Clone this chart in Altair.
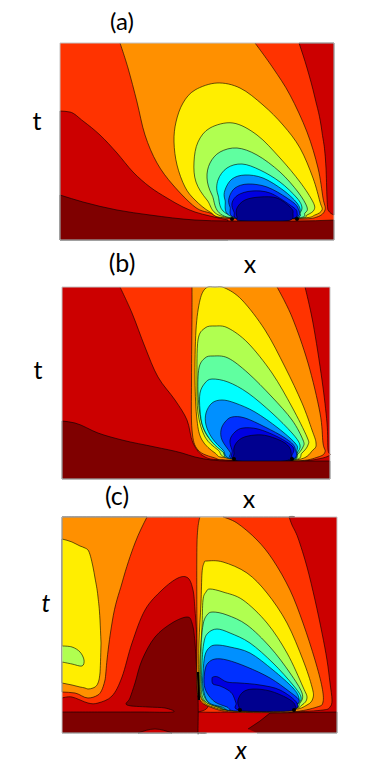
import altair as alt
import pandas as pd

# colours of the contour levels
DARK, RED, ORED, ORANGE, YELLOW = "#7f0000", "#cc0000", "#ff3300", "#ff9000", "#ffee00"
LGREEN, GREEN, CYAN, AZURE, BLUE, DEEP, NAVY = "#b0ff50", "#60ffa0", "#00ffff", "#0090ff", "#0030ff", "#0000e0", "#00008f"

# panel frames: x0, x1, y0, y1
frame_a = (60, 334, 43, 240)
frame_b = (62, 330, 287, 479)
frame_c = (62, 337, 517, 733)

# ---- panel (a) contours
a_red_right = [(299,43),(307,68),(315,98),(322,132),(326,168),(327,198),(328,210),(334,215)]
a_red_left = [(60,111),(70,112),(83,121),(100,135),(117,153),(133,172),(150,187),(167,198),(183,207),(195,212),(210,216),(228,220)]
a_orange = [(120,43),(128,68),(137,102),(145,135),(157,163),(173,185),(195,207),(210,213),(227,218),(297,219),(317,217),(325,210),(323,198),(318,168),(307,132),(290,95),(273,68),(255,43)]
a_yellow = [(217,83),(195,90),(183,103),(176,122),(174,142),(177,165),(185,187),(195,200),(210,212),(227,218),(300,218),(315,215),(322,210),(320,202),(313,178),(300,148),(283,125),(263,105),(240,88)]
a_lgreen = [(233,123),(210,128),(198,142),(194,162),(196,182),(207,200),(225,217),(297,218),(307,215),(314,210),(313,202),(300,182),(280,158),(257,135)]
a_green = [(237,148),(220,152),(210,163),(207,178),(212,195),(227,217),(296,218),(305,213),(307,207),(298,192),(280,172),(257,155)]
a_cyan = [(242,164),(227,168),(218,180),(218,195),(230,215),(293,218),(298,215),(302,208),(297,198),(280,182),(260,170)]
a_azure = [(245,175),(232,179),(225,190),(225,200),(233,217),(293,218),(300,212),(297,203),(283,190),(263,178)]
a_blue = [(248,184),(235,188),(229,198),(230,207),(237,218),(293,218),(298,208),(287,198),(267,187)]
a_deep = [(252,191),(238,195),(232,203),(234,212),(240,219),(290,219),(297,212),(290,205),(270,193)]
a_navy = [(260,197),(245,200),(237,208),(237,217),(242,221),(287,221),(293,213),(290,207),(277,198)]
a_dark = [(60,195),(83,202),(117,210),(150,215),(195,220),(228,221),(297,221),(334,220)]

# ---- panel (b) contours
b_ored = [(120,287),(132,313),(145,347),(158,377),(175,400),(187,420),(193,443),(205,457),(228,460),(295,461),(318,459),(330,455),(328,450),(327,423),(322,380),(313,323),(305,287)]
b_orange = [(192,287),(192,313),(191.5,380),(192,430),(198,450),(215,458),(228,460),(295,461),(318,457),(325,452),(323,443),(320,413),(308,363),(292,317),(277,287)]
b_yellow = [(215,287),(206,288),(200,300),(196,330),(195,380),(197,420),(202,440),(215,453),(228,458),(295,460),(313,450),(316,443),(312,430),(302,403),(285,367),(265,330),(242,300),(225,288)]
b_lgreen = [(215,326),(205,328),(198,340),(197,380),(198,413),(205,437),(218,450),(230,458),(292,460),(302,453),(308,445),(307,437),(292,407),(272,373),(248,343),(228,328)]
b_green = [(213,356),(205,358),(199,368),(198,393),(201,420),(208,437),(222,450),(232,458),(290,460),(297,455),(303,447),(303,440),(292,420),(272,397),(248,373),(228,358)]
b_cyan = [(212,379),(205,383),(200,393),(200,410),(203,427),(212,442),(223,452),(232,459),(290,460),(297,453),(300,445),(292,433),(272,413),(248,393),(228,382)]
b_azure = [(222,400),(212,403),(206,413),(206,425),(212,438),(223,450),(233,459),(290,460),(297,450),(295,443),(278,428),(255,412),(235,403)]
b_blue = [(232,417),(225,422),(221,430),(222,440),(230,452),(235,459),(290,460),(295,448),(285,438),(265,427),(245,418)]
b_deep = [(243,428),(235,432),(230,440),(232,450),(237,460),(287,461),(292,455),(293,447),(278,437),(258,429)]
b_navy = [(255,435),(242,438),(235,445),(234,453),(238,461),(285,461),(291,452),(285,443),(268,436)]
b_dark = [(62,421),(75,423),(98,433),(122,440),(155,447),(182,453),(195,457),(228,461),(295,461),(330,461)]

# ---- panel (c) contours
c_ored = [(62,705),(130,708),(200,712),(233,712),(290,712),(323,710),(330,707),(332,700),(330,683),(327,660),(322,633),(315,600),(307,567),(298,538),(292,525),(289,517),(288,517),(200,517),(62,517)]
c_orange_l = [(62,692),(75,693),(88,698),(98,695),(105,680),(107,660),(112,623),(122,583),(135,543),(147,517)]
c_yellow_x = [62,72,80,85,88,93,95,98,100,101]
c_yellow_t = [539,542,546,548,550,567,578,597,620,643]
c_yellow_b = [683,685,687,688,689,688,687,683,673,643]
c_lgreen = [(62,646),(72,647),(80,652),(84,660),(82,666),(72,664),(62,662)]
c_red_blob = [(62,698),(72,697),(88,703),(98,703),(112,696),(122,677),(132,643),(145,610),(162,590),(178,578),(188,578),(193,590),(195,610),(197,643),(197,687),(198,712),(62,714)]
c_dark_blob = [(62,712),(100,712),(140,712),(173,712),(165,708),(148,707),(127,705),(130,698),(135,683),(142,660),(155,637),(172,623),(187,617),(192,623),(195,643),(198,697),(198,731),(198,733),(196,733),(62,733)]
c_bump = [(138,733),(155,729),(172,733)]
c_wedge = [(248,729),(260,721),(270,713),(337,712),(337,733),(257,733)]
c_orange = [(200,517),(197,543),(197,643),(197,687),(200,700),(210,707),(233,712),(290,712),(317,707),(323,702),(322,687),(315,660),(303,623),(290,590),(273,560),(257,540),(237,523),(223,517)]
c_yellow = [(207,561),(204,563),(202,573),(201,603),(199,643),(199,683),(202,700),(213,707),(235,711),(290,710),(307,705),(313,698),(312,687),(303,660),(287,623),(267,593),(247,573),(223,562)]
c_lgreen2 = [(210,589),(206,592),(203,600),(202,627),(200,660),(200,687),(203,700),(217,707),(233,710),(290,709),(302,705),(307,698),(303,687),(287,653),(267,623),(243,600),(223,592)]
c_green = [(213,612),(207,615),(203,625),(201,650),(201,687),(205,701),(218,707),(233,710),(290,709),(300,703),(302,693),(290,673),(270,647),(247,625),(227,615)]
c_cyan = [(217,629),(208,633),(204,642),(202,663),(202,687),(207,701),(220,707),(233,710),(290,709),(298,704),(301,697),(293,685),(273,663),(250,643),(230,633)]
c_azure = [(217,645),(210,647),(205,655),(203,673),(203,687),(208,702),(222,707),(235,711),(290,709),(297,704),(299,698),(293,688),(273,670),(250,653),(230,647)]
c_blue = [(215,659),(208,663),(205,670),(204,683),(207,693),(215,702),(227,707),(237,711),(288,709),(296,705),(299,700),(290,692),(270,678),(247,667),(227,660)]
c_deep = [(212,679),(213,677),(218,677),(227,682),(240,683),(260,685),(280,690),(297,703),(290,710),(240,710),(236,703),(233,695),(228,690),(220,686),(213,684)]
c_navy = [(253,689),(243,692),(238,700),(239,707),(243,711),(290,711),(295,705),(287,698),(270,691)]
c_pinch = [(198,672),(199,700)]

# contour pinch points near the ends of the innermost level
pinch_x = [232, 297, 234, 292, 240, 294]
pinch_y = [219, 219, 459, 459, 710, 710]

# labels
label_text = ["(a)", "t", "x", "(b)", "t", "x", "(c)"]
label_x = [122, 37, 250, 122, 38, 249, 117]
label_y = [23, 122, 265, 264, 371, 500, 497]
label_size = [24, 25, 25, 25, 25, 25, 25]
italic_text = ["t", "x"]
italic_x = [46, 241]
italic_y = [604, 751]

X = alt.Scale(domain=[8, 373], nice=False, zero=False)
Y = alt.Scale(domain=[765, 8], nice=False, zero=False)
xe = alt.X("x:Q", scale=X, axis=None)
ye = alt.Y("y:Q", scale=Y, axis=None)
SW = 0.6


def df(pts):
    return pd.DataFrame({"x": [p[0] for p in pts], "y": [p[1] for p in pts], "i": range(len(pts))})


def poly(pts, color, interp="cardinal-closed"):
    return alt.Chart(df(pts)).mark_line(interpolate=interp, fill=color, stroke="black",
                                        strokeWidth=SW, strokeJoin="round").encode(
        x=xe, y=ye, order=alt.Order("i:Q"))


def band(pts, edge, color):
    d = df(pts)
    d["e"] = edge
    return alt.Chart(d).mark_area(interpolate="monotone", fill=color, stroke="black", strokeWidth=SW).encode(
        x=xe, y=ye, y2="e:Q")


def rect(fr, color):
    d = pd.DataFrame([{"x": fr[0], "x2": fr[1], "y": fr[2], "y2": fr[3]}])
    return alt.Chart(d).mark_rect(fill=color).encode(x=xe, x2="x2:Q", y=ye, y2="y2:Q")


def border(fr):
    d = pd.DataFrame([{"x": fr[0], "x2": fr[1], "y": fr[2], "y2": fr[3]}])
    return alt.Chart(d).mark_rect(fill=None, stroke="#c4c4c4", strokeWidth=1).encode(
        x=xe, x2="x2:Q", y=ye, y2="y2:Q")


def yellow_left():
    d = pd.DataFrame({"x": c_yellow_x, "y": c_yellow_t, "e": c_yellow_b})
    return alt.Chart(d).mark_area(interpolate="monotone", fill=YELLOW, stroke="black", strokeWidth=SW).encode(
        x=xe, y=ye, y2="e:Q")


layers = [
    rect(frame_a, ORED),
    band(a_red_right, 43, RED),
    band(a_red_left, 240, RED),
    poly(a_orange, ORANGE, "cardinal"),
    poly(a_yellow, YELLOW), poly(a_lgreen, LGREEN), poly(a_green, GREEN), poly(a_cyan, CYAN),
    poly(a_azure, AZURE), poly(a_blue, BLUE), poly(a_deep, DEEP), poly(a_navy, NAVY),
    band(a_dark, 240, DARK),

    rect(frame_b, RED),
    poly(b_ored, ORED, "cardinal"),
    poly(b_orange, ORANGE, "cardinal"),
    poly(b_yellow, YELLOW), poly(b_lgreen, LGREEN), poly(b_green, GREEN), poly(b_cyan, CYAN),
    poly(b_azure, AZURE), poly(b_blue, BLUE), poly(b_deep, DEEP), poly(b_navy, NAVY),
    band(b_dark, 479, DARK),

    rect(frame_c, RED),
    poly(c_ored, ORED, "cardinal"),
    band(c_orange_l, 517, ORANGE),
    yellow_left(),
    poly(c_lgreen, LGREEN, "cardinal"),
    poly(c_red_blob, RED, "cardinal"),
    poly(c_dark_blob, DARK, "cardinal"),
    band(c_bump, 733, RED),
    poly(c_wedge, DARK, "linear"),
    poly(c_orange, ORANGE, "cardinal"), poly(c_yellow, YELLOW), poly(c_lgreen2, LGREEN), poly(c_green, GREEN),
    poly(c_cyan, CYAN), poly(c_azure, AZURE), poly(c_blue, BLUE), poly(c_deep, DEEP), poly(c_navy, NAVY),

    alt.Chart(df(c_pinch)).mark_line(stroke="black", strokeWidth=2.2).encode(x=xe, y=ye, order=alt.Order("i:Q")),
    alt.Chart(pd.DataFrame({"x": pinch_x, "y": pinch_y})).mark_circle(size=16, color="black", opacity=1).encode(x=xe, y=ye),
    border(frame_a), border(frame_b), border(frame_c),
    alt.Chart(pd.DataFrame({"x": label_x, "y": label_y, "t": label_text, "s": label_size})).mark_text(
        font="Lato", color="black").encode(x=xe, y=ye, text="t:N", size=alt.Size("s:Q", scale=None, legend=None)),
    alt.Chart(pd.DataFrame({"x": italic_x, "y": italic_y, "t": italic_text})).mark_text(
        font="Lato", fontSize=25, fontStyle="italic", color="black").encode(x=xe, y=ye, text="t:N"),
]

chart = alt.layer(*layers).properties(width=365, height=757, padding=0, autosize=alt.AutoSizeParams(type="none")).configure_view(stroke=None)
chart.save("out.html", embed_options={"renderer": "svg", "actions": False})
